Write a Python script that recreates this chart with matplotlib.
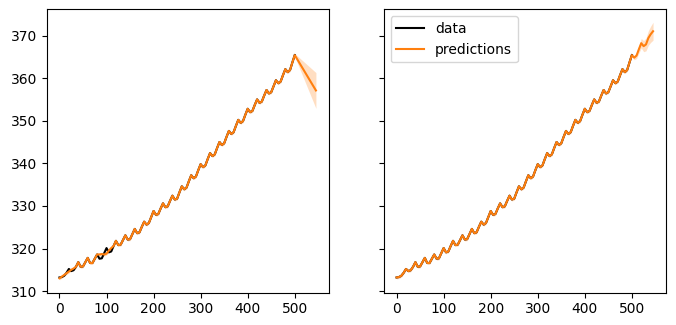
import numpy as np
import matplotlib
matplotlib.use("Agg")
from matplotlib import pyplot as plt

# observed series, read every 5 steps (one cycle is about 20 steps)
x_data = np.arange(0, 501, 5)
y_data = [313.2, 313.3, 313.6, 314.3, 315.2, 314.7, 314.9, 315.7, 316.8, 315.7,
          315.8, 316.8, 317.8, 316.6, 316.6, 317.6, 318.6, 317.6, 317.7, 318.9,
          320.1, 319.1, 319.3, 320.6, 321.8, 320.8, 320.9, 322.0, 323.1, 322.1,
          322.2, 323.4, 324.6, 323.6, 323.8, 325.1, 326.3, 325.6, 326.0, 327.4,
          328.8, 327.9, 328.1, 329.4, 330.6, 329.7, 329.9, 331.2, 332.4, 331.5,
          331.7, 333.2, 334.6, 333.9, 334.3, 335.8, 337.2, 336.5, 336.9, 338.4,
          339.8, 339.1, 339.5, 341.0, 342.4, 341.7, 342.1, 343.6, 345.0, 344.3,
          344.7, 346.2, 347.6, 346.9, 347.3, 348.8, 350.2, 349.5, 349.9, 351.4,
          352.8, 352.0, 352.3, 353.7, 355.0, 354.2, 354.5, 355.9, 357.2, 356.4,
          356.7, 358.1, 359.5, 358.8, 359.2, 360.7, 362.1, 361.4, 361.9, 363.7,
          365.4]

# left model: smooth start, flat stretch near 100, straight fall after the data
x_left = list(x_data) + [545]
y_left = [313.0, 313.4, 313.8, 314.2, 314.6, 315.0, 315.3, 315.7, 316.8, 315.7,
          315.8, 316.8, 317.8, 316.6, 316.6, 317.6, 318.6, 318.6, 318.7, 318.6,
          318.8, 319.5, 320.1, 320.6, 321.8, 320.8, 320.9, 322.0, 323.1, 322.1,
          322.2, 323.4, 324.6, 323.6, 323.8, 325.1, 326.3, 325.6, 326.0, 327.4,
          328.8, 327.9, 328.1, 329.4, 330.6, 329.7, 329.9, 331.2, 332.4, 331.5,
          331.7, 333.2, 334.6, 333.9, 334.3, 335.8, 337.2, 336.5, 336.9, 338.4,
          339.8, 339.1, 339.5, 341.0, 342.4, 341.7, 342.1, 343.6, 345.0, 344.3,
          344.7, 346.2, 347.6, 346.9, 347.3, 348.8, 350.2, 349.5, 349.9, 351.4,
          352.8, 352.0, 352.3, 353.7, 355.0, 354.2, 354.5, 355.9, 357.2, 356.4,
          356.7, 358.1, 359.5, 358.8, 359.2, 360.7, 362.1, 361.4, 361.9, 363.7,
          365.4, 357.1]
spread_left = [0.35] * 101 + [4.2]

# right model: keeps the cycle going past the data
x_right = list(x_data) + [505, 510, 515, 520, 525, 530, 535, 540, 545]
y_right = y_data + [364.8, 365.3, 366.8, 368.2, 367.5, 367.9, 369.4, 370.3, 371.0]
spread_right = [0.35] * 101 + [0.5, 0.7, 0.9, 1.1, 1.3, 1.5, 1.7, 1.9, 2.1]

fig, axes = plt.subplots(1, 2, figsize=(6.76, 3.25), dpi=100, sharey=True)
fig.subplots_adjust(left=0.069, right=0.985, top=0.971, bottom=0.0994, wspace=0.195)

for ax, xp, yp, sp in [(axes[0], x_left, y_left, spread_left),
                       (axes[1], x_right, y_right, spread_right)]:
    yp = np.array(yp)
    sp = np.array(sp)
    ax.plot(x_data, y_data, color="black", lw=1.5, label="data")
    ax.plot(xp, yp, color="C1", lw=1.5, label="predictions")
    ax.fill_between(xp, yp - sp, yp + sp, color="C1", alpha=0.25, lw=0)

axes[0].set_xticks([0, 100, 200, 300, 400, 500])
axes[1].set_xticks([0, 100, 200, 300, 400, 500])
axes[0].set_yticks([310, 320, 330, 340, 350, 360, 370])
axes[1].legend(loc="upper left")

plt.savefig("out.png", dpi=100)
